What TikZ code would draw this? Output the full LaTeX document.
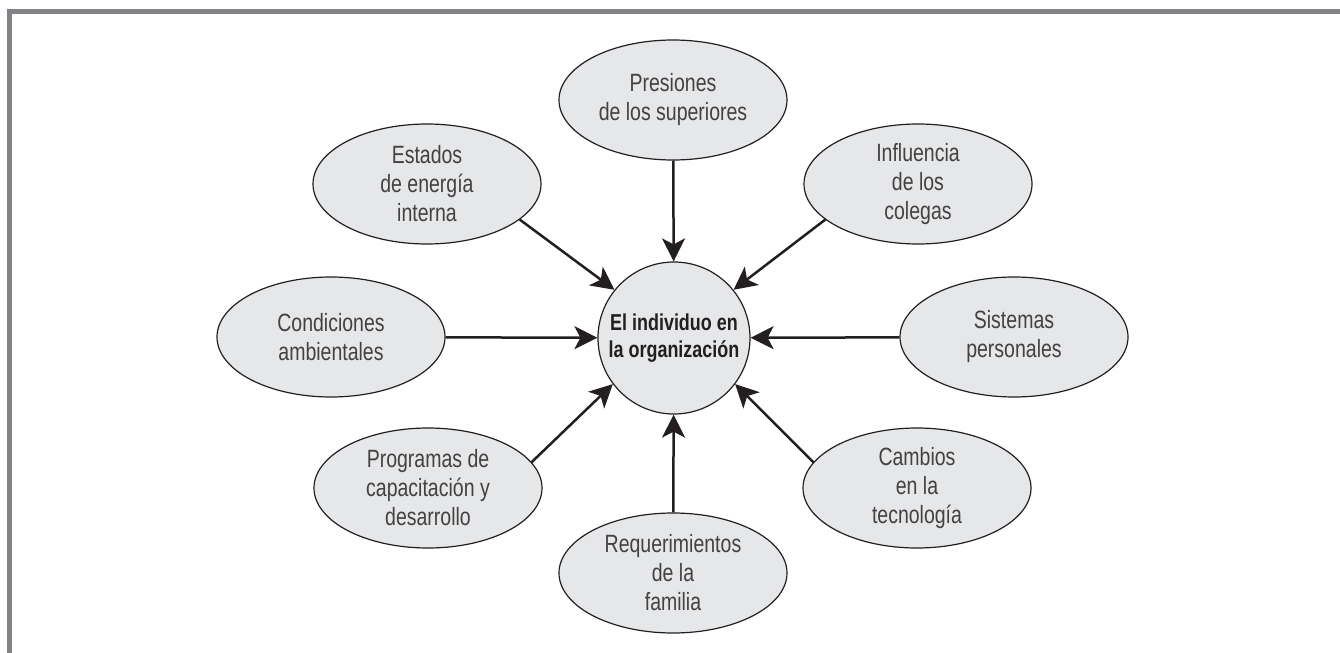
\documentclass[tikz,border=0pt]{standalone}
\usepackage{fontspec}
\setmainfont{Liberation Sans}[FakeStretch=0.78]
\usetikzlibrary{arrows.meta,shapes.geometric}

\definecolor{marco}{RGB}{128,130,133}
\definecolor{relleno}{RGB}{230,231,232}
\definecolor{tinta}{RGB}{35,31,32}

\tikzset{
  factor/.style={ellipse, draw=tinta, line width=0.6pt, fill=relleno,
    minimum width=114pt, minimum height=60pt, inner sep=0pt, align=center,
    text=tinta!85, font=\fontsize{12.5}{14.5}\selectfont},
  nucleo/.style={circle, draw=tinta, line width=0.6pt, fill=relleno,
    minimum size=76pt, inner sep=0pt, align=center, text=tinta,
    font=\bfseries\fontsize{11.5}{13.5}\selectfont},
  flecha/.style={-{Stealth[length=11.5pt,width=11.5pt,inset=3pt]},
    line width=1.25pt, draw=tinta}
}

\begin{document}
\begin{tikzpicture}[x=0.5pt,y=-0.5pt]
    \useasboundingbox (0,0) rectangle (1340,653);

    % Marco
    \draw[marco, line width=2.5pt] (9.2,653) |- (1340,11.5);

    % Nodo central
    \node[nucleo] (centro) at (674,338) {El individuo en\\la organización};

    % Factores
    \node[factor] (presiones) at (673,100) {Presiones\\de los superiores};
    \node[factor] (estados) at (427,184) {Estados\\de energía\\interna};
    \node[factor] (influencia) at (918,184) {Influencia\\de los\\colegas};
    \node[factor] (condiciones) at (331,337) {Condiciones\\ambientales};
    \node[factor] (sistemas) at (1014,337) {Sistemas\\personales};
    \node[factor] (programas) at (428,488) {Programas de\\capacitación y\\desarrollo};
    \node[factor] (cambios) at (917,488) {Cambios\\en la\\tecnología};
    \node[factor] (requerimientos) at (673,573) {Requerimientos\\de la\\familia};

    % Flechas
    \draw[flecha] (presiones) -- (centro);
    \draw[flecha] (estados.-21) -- (centro.141);
    \draw[flecha] (influencia.201) -- (centro.39);
    \draw[flecha] (condiciones) -- (centro);
    \draw[flecha] (sistemas) -- (centro);
    \draw[flecha] (programas.14) -- (centro.217);
    \draw[flecha] (cambios.166) -- (centro.323);
    \draw[flecha] (requerimientos) -- (centro);
\end{tikzpicture}
\end{document}
